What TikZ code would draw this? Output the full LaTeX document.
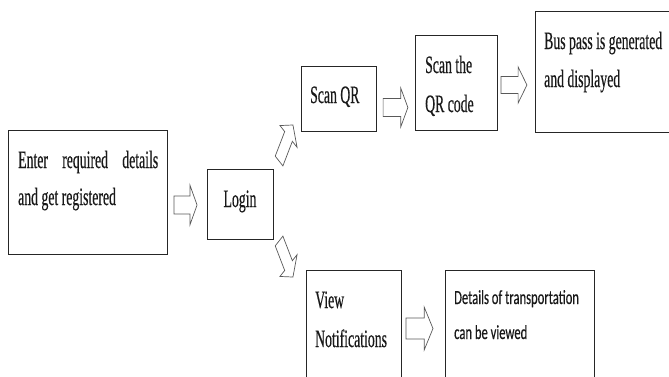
\documentclass[tikz,border=0pt]{standalone}
\usepackage{fontspec}
\usetikzlibrary{calc}
\newfontfamily\tnr[FakeStretch=0.55,FakeBold=0.4]{Liberation Serif}
\newfontfamily\calb[FakeStretch=0.63,FakeBold=0.4]{Carlito}
\newcommand\barrow[7]{%
  \coordinate (#1) at #2;
  \begin{scope}[shift={(#1)}, xscale=0.55, rotate=#3]
    \draw[arr] (-#4/2,-#7/2) -- (#4/2-#5,-#7/2) -- (#4/2-#5,-#6/2) -- (#4/2,0)
      -- (#4/2-#5,#6/2) -- (#4/2-#5,#7/2) -- (-#4/2,#7/2) -- cycle;
  \end{scope}}
\tikzset{
  box/.style={draw=black!85, line width=0.8pt, rectangle, inner sep=0pt, anchor=north west},
  txt/.style={inner sep=0pt, anchor=base west, text=black!90, font=\tnr\fontsize{25}{30}\selectfont},
  txtc/.style={txt, font=\calb\fontsize{20}{24}\selectfont},
  arr/.style={draw=black!65, line width=0.7pt, line join=miter, fill=white}
}
\begin{document}
\begin{tikzpicture}[x=1pt,y=-1pt]
\useasboundingbox (0,0) rectangle (669,376);
\clip (0,0) rectangle (669,376);
% boxes
\node[box, minimum width=159, minimum height=124] (b1) at (8,130) {};
\node[box, minimum width=66, minimum height=70] (login) at (207,169) {};
\node[box, minimum width=75, minimum height=65] (scanqr) at (301,66) {};
\node[box, minimum width=82, minimum height=95] (scanthe) at (415,35) {};
\node[box, minimum width=150, minimum height=121] (bus) at (535,11) {};
\node[box, minimum width=95, minimum height=130] (view) at (306,270) {};
\node[box, minimum width=149, minimum height=130] (details) at (445,270) {};
% texts
\node[txt] (t1a) at (18,168) {\makebox[140pt][s]{Enter required details}};
\node[txt] (t1b) at (18,205) {and get registered};
\node[txt, anchor=base] (tlog) at (240,207) {Login};
\node[txt] (tqr) at (310,103) {Scan QR};
\node[txt] (tsa) at (425,73) {Scan the};
\node[txt] (tsb) at (425,112) {QR code};
\node[txt] (tba) at (544,49) {Bus pass is generated};
\node[txt] (tbb) at (544,87) {and displayed};
\node[txt] (tva) at (315,308) {View};
\node[txt] (tvb) at (315,347) {Notifications};
\node[txtc] (tda) at (454,304) {Details of transportation};
\node[txtc] (tdb) at (454,339) {can be viewed};
% block arrows
\barrow{aA}{(185.5,205)}{0}{42}{13}{40}{18}
\barrow{aB}{(395.5,107.5)}{0}{45}{13}{39}{18}
\barrow{aC}{(514,85)}{0}{47}{16}{36}{17}
\barrow{aD}{(419.5,328.5)}{0}{49}{16}{43}{21}
\barrow{aE}{(286,143)}{55}{44}{14}{38}{17}
\barrow{aF}{(286,259)}{-55}{44}{14}{38}{17}
\end{tikzpicture}
\end{document}
